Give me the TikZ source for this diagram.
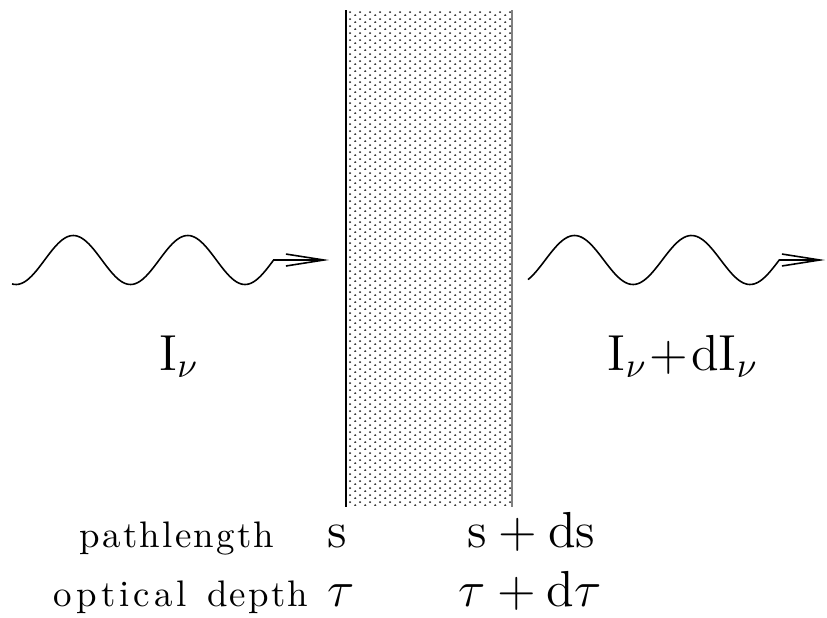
\documentclass[tikz,border=0pt]{standalone}
\usepackage{fontspec}
\newfontfamily\spacedrm{lmroman10-regular.otf}[LetterSpace=6]
\newfontfamily\widerm{lmroman10-regular.otf}[LetterSpace=11]
\usetikzlibrary{arrows.meta,patterns.meta}

% fine stipple for the slab
\tikzdeclarepattern{
  name=stipple,
  type=uncolored,
  bounding box={(0pt,0pt) and (2.8pt,2pt)},
  tile size={(2.8pt,2pt)},
  code={
    \pgfpathcircle{\pgfpoint{0.35pt}{0.25pt}}{0.32pt}
    \pgfpathcircle{\pgfpoint{1.75pt}{1.25pt}}{0.32pt}
    \pgfusepath{fill}
  }
}

\begin{document}
\begin{tikzpicture}[x=0.01cm, y=-0.01cm,
  wave/.style={line width=0.45pt, -{Straight Barb[length=10.8pt,width=3.4pt]}},
  sym/.style={font=\fontsize{14.4}{16}\selectfont, inner sep=0pt},
  word/.style={font=\spacedrm\fontsize{10.5}{12}\selectfont, inner sep=0pt}]
  \useasboundingbox (0,0) rectangle (827,618);

  % Slab
  \coordinate (slabtl) at (346,10);
  \coordinate (slabbr) at (512,507);
  \fill[pattern=stipple, pattern color=black!85] (slabtl) rectangle (slabbr);
  \draw[line width=0.45pt] (slabtl) -- (slabtl |- slabbr);
  \draw[line width=0.45pt, gray] (slabbr |- slabtl) -- (slabbr);

  % Waves
  \coordinate (ltip) at (329,260);
  \coordinate (rtip) at (825,260);
  \draw[wave] plot[domain=12:273.6, samples=120, smooth]
    (\x, {260+24.5*cos(3.1441*(\x-16))}) -- (ltip);
  \draw[wave] plot[domain=528:779.25, samples=120, smooth]
    (\x, {260+24.5*cos(3.07692*(\x-516))}) -- (rtip);

  % Labels
  \node[sym, anchor=base] (Iin) at (179,370) {$\mathrm{I}_\nu$};
  \node[sym, anchor=base] (Iout) at (683,370)
    {$\mathrm{I}_\nu\mskip1mu{+}\mskip1mu\mathrm{dI}_\nu$};
  \node[sym, anchor=base west] (s) at (327,547) {$\mathrm{s}$};
  \node[sym, anchor=base west] (sds) at (467,547) {$\mathrm{s}+\mathrm{ds}$};
  \node[sym, anchor=base west] (tau) at (327,606) {$\tau$};
  \node[sym, anchor=base west] (taudtau) at (458,606) {$\tau+\mathrm{d}\tau$};
  \node[word, anchor=base east] (pathlbl) at (275,547) {pathlength};
  \node[word, anchor=base east] (depthlbl) at (309,606)
    {{\widerm optical}\hspace{0.15em} depth};
\end{tikzpicture}
\end{document}
